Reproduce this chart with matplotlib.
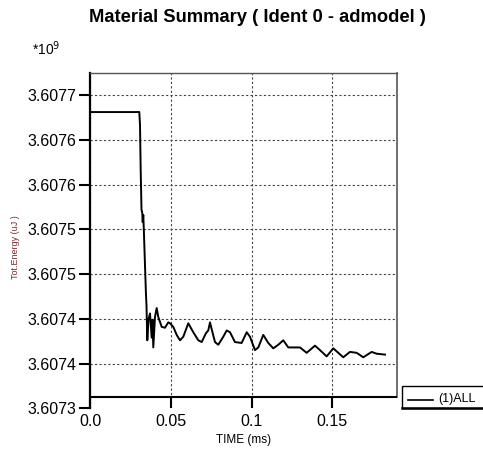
import matplotlib
matplotlib.use("Agg")
import matplotlib.pyplot as plt
from matplotlib.lines import Line2D
from matplotlib.patches import Rectangle

plt.rcParams['font.family'] = ['Liberation Sans', 'DejaVu Sans']

title = "Material Summary ( Ident 0 - admodel )"
x_label = "TIME (ms)"
y_label = "Tot.Energy (uJ )"
series_name = "(1)ALL"

time_ms = [0.0, 0.0305, 0.03094, 0.03137, 0.03187, 0.03236, 0.03261, 0.03298, 0.03342,
           0.03403, 0.03465, 0.03496, 0.03546, 0.03620, 0.03713, 0.03818, 0.03868,
           0.03917, 0.04022, 0.04127, 0.04226, 0.04437, 0.04641, 0.04845, 0.04950,
           0.05155, 0.05365, 0.05569, 0.05774, 0.06083, 0.06392, 0.06702, 0.06912,
           0.07178, 0.07320, 0.07426, 0.07593, 0.07735, 0.07939, 0.08249, 0.08459,
           0.08663, 0.08973, 0.09387, 0.09697, 0.09901, 0.10210, 0.10415, 0.10724,
           0.11033, 0.11343, 0.11652, 0.11962, 0.12271, 0.12580, 0.12995, 0.13410,
           0.13923, 0.14233, 0.14647, 0.15056, 0.15365, 0.15674, 0.16089, 0.16504,
           0.16912, 0.17432, 0.17741, 0.18255]
energy_e9 = [3.607671, 3.607671, 3.607657, 3.607606, 3.607562, 3.607558, 3.607548,
             3.607556, 3.607534, 3.607500, 3.607467, 3.607455, 3.607416, 3.607439,
             3.607446, 3.607419, 3.607439, 3.607408, 3.607442, 3.607452, 3.607442,
             3.607431, 3.607430, 3.607436, 3.607435, 3.607431, 3.607422, 3.607416,
             3.607420, 3.607435, 3.607425, 3.607416, 3.607414, 3.607424, 3.607427,
             3.607436, 3.607424, 3.607414, 3.607411, 3.607420, 3.607427, 3.607425,
             3.607414, 3.607413, 3.607425, 3.607420, 3.607405, 3.607408, 3.607422,
             3.607413, 3.607407, 3.607411, 3.607416, 3.607408, 3.607408, 3.607408,
             3.607402, 3.607410, 3.607405, 3.607398, 3.607407, 3.607402, 3.607397,
             3.607403, 3.607402, 3.607397, 3.607403, 3.607401, 3.607400]

x_ticks = [0.0, 0.05, 0.1, 0.15]
x_tick_labels = ["0.0", "0.05", "0.1", "0.15"]
y_ticks = [3.60734, 3.60739, 3.60744, 3.60749, 3.60754, 3.60759, 3.60764, 3.60769]
y_tick_labels = ["3.6073", "3.6074", "3.6074", "3.6075", "3.6075", "3.6076", "3.6076", "3.6077"]

W, H = 483, 453
fig = plt.figure(figsize=(W / 100, H / 100), dpi=100)

# axes spans down to the lowest y tick (pixel 408); the visible frame bottom is at 396.7
ax_left, ax_right, ax_top, ax_bot = 90, 397, 73, 408.3
ax = fig.add_axes([ax_left / W, 1 - ax_bot / H, (ax_right - ax_left) / W, (ax_bot - ax_top) / H])

ax.plot(time_ms, energy_e9, color='black', lw=1.4)

ax.set_xlim(0.0, 0.190)
ax.set_ylim(3.60734, 3.60734 + (ax_bot - ax_top) / 44.75 * 0.00005)

ax.set_xticks(x_ticks)
ax.set_xticklabels(x_tick_labels)
ax.set_yticks(y_ticks)
ax.set_yticklabels(y_tick_labels)

ax.grid(True, color='#444444', linestyle=(0, (2, 2)), linewidth=0.8)
ax.yaxis.get_gridlines()[0].set_visible(False)

ax.tick_params(axis='y', direction='out', length=8, width=1.5, labelsize=11.5, pad=2)
ax.tick_params(axis='x', direction='in', length=8.5, width=1.5, labelsize=11.5, pad=4)

ax.spines['bottom'].set_visible(False)
ax.spines['left'].set_linewidth(1.6)
ax.spines['top'].set_color('#555555')
ax.spines['top'].set_linewidth(1.0)
ax.spines['right'].set_color('#555555')
ax.spines['right'].set_linewidth(1.2)
ax.spines['right'].set_bounds(3.60734 + (ax_bot - 396.7) / 44.75 * 0.00005, ax.get_ylim()[1])

# frame bottom line
frame_y = 3.60734 + (ax_bot - 396.7) / 44.75 * 0.00005
ax.axhline(frame_y, color='black', lw=1.5, zorder=3)

# titles / labels
fig.text(257 / W, 1 - 18 / H, title, ha='center', va='center', fontsize=13.2, fontweight='bold')
fig.text(32 / W, 1 - 49 / H, r"*10$^{9}$", ha='left', va='center', fontsize=10)
fig.text(15.5 / W, 1 - 247 / H, y_label, ha='center', va='center', rotation=90,
         fontsize=6.5, color='#7a2a2a')
fig.text(243.5 / W, 1 - 440 / H, x_label, ha='center', va='center', fontsize=8.5)

# legend box (runs off the right edge)
lb_left, lb_top, lb_bot = 402.3, 386, 408
fig.add_artist(Rectangle((lb_left / W, 1 - lb_bot / H), (W + 10 - lb_left) / W,
                         (lb_bot - lb_top) / H, transform=fig.transFigure,
                         facecolor='white', edgecolor='black', lw=1.0))
fig.add_artist(Line2D([lb_left / W, W / W + 0.05], [1 - (lb_bot - 0.5) / H] * 2,
                      transform=fig.transFigure, color='black', lw=1.8))
fig.add_artist(Line2D([408 / W, 433 / W], [1 - 400 / H] * 2, transform=fig.transFigure,
                      color='black', lw=1.2))
fig.text(438 / W, 1 - 399 / H, series_name, ha='left', va='center', fontsize=9)

fig.savefig("out.png", dpi=100)
